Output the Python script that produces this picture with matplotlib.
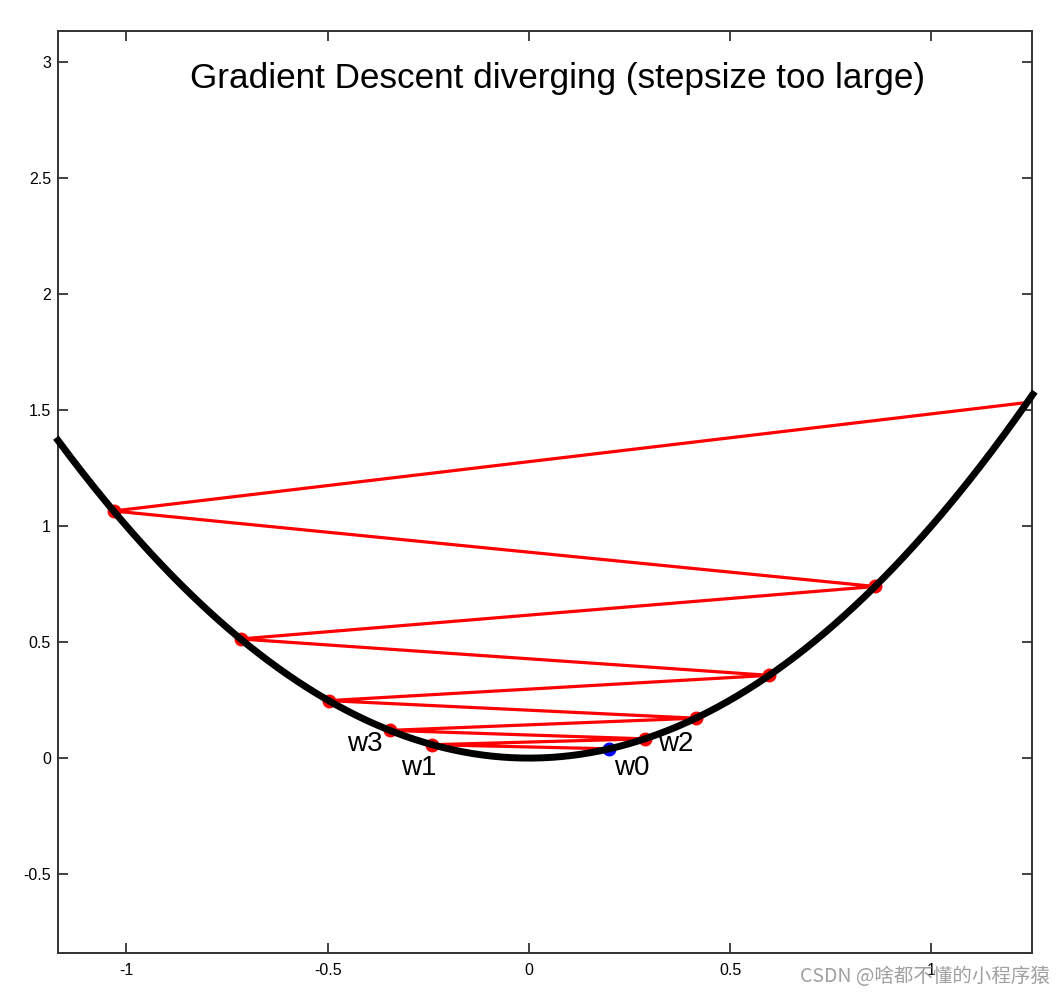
import numpy as np
import matplotlib
matplotlib.use("Agg")
import matplotlib.pyplot as plt

# gradient descent iterates (f(w) = w^2)
w_iter = [0.2, -0.24, 0.288, -0.3456, 0.4147, -0.4977, 0.5972, -0.7166, 0.86, -1.032, 1.238]
labels = ["w0", "w1", "w2", "w3"]
label_offsets = [(16, -14), (-10, -17), (22, -4), (-18, -10)]  # points

xticks = [-1, -0.5, 0, 0.5, 1]
yticks = [-0.5, 0, 0.5, 1, 1.5, 2, 2.5, 3]

plt.rcParams["font.family"] = ["Liberation Sans", "DejaVu Sans"]

fig = plt.figure(figsize=(10.63, 9.96), dpi=100)
ax = fig.add_axes([0.0546, 0.0432, 0.9708 - 0.0546, 0.9689 - 0.0432])

w = np.array(w_iter)
fw = w ** 2

# zig-zag path (last iterate sits on the edge, no dot visible)
ax.plot(w, fw, color="#ff0000", lw=2.3, zorder=2)
ax.plot(w[1:-1], fw[1:-1], "o", color="#ff0000", ms=9, zorder=3)
ax.plot(w[0], fw[0], "o", color="#0000ff", ms=9, zorder=3)

# the function
xs = np.linspace(-1.17, 1.252, 400)
ax.plot(xs, xs ** 2, color="black", lw=5, zorder=4, clip_on=False)

for i, (lab, off) in enumerate(zip(labels, label_offsets)):
    ax.annotate(lab, (w[i], fw[i]), xytext=off, textcoords="offset points",
                ha="center", va="center", fontsize=20, zorder=5)

ax.text(0.07, 2.93, "Gradient Descent diverging (stepsize too large)",
        ha="center", va="center", fontsize=25.3)

ax.set_xlim(-1.17, 1.25)
ax.set_ylim(-0.84, 3.134)
ax.set_xticks(xticks)
ax.set_xticklabels([f"{t:g}" for t in xticks])
ax.set_yticks(yticks)
ax.set_yticklabels([f"{t:g}" for t in yticks])
ax.tick_params(axis="both", direction="in", length=7, width=1.3, labelsize=11.5,
               top=True, right=True, color="#333333")
ax.tick_params(axis="x", pad=7)
ax.tick_params(axis="y", pad=5)
for sp in ax.spines.values():
    sp.set_linewidth(1.4)
    sp.set_color("#333333")

fig.text(0.988, 0.02, "CSDN @啥都不懂的小程序猿", ha="right", va="center",
         fontsize=14, color="#a0a0a0",
         family=["Noto Sans CJK SC", "DejaVu Sans"])

fig.savefig("out.png", dpi=100)
